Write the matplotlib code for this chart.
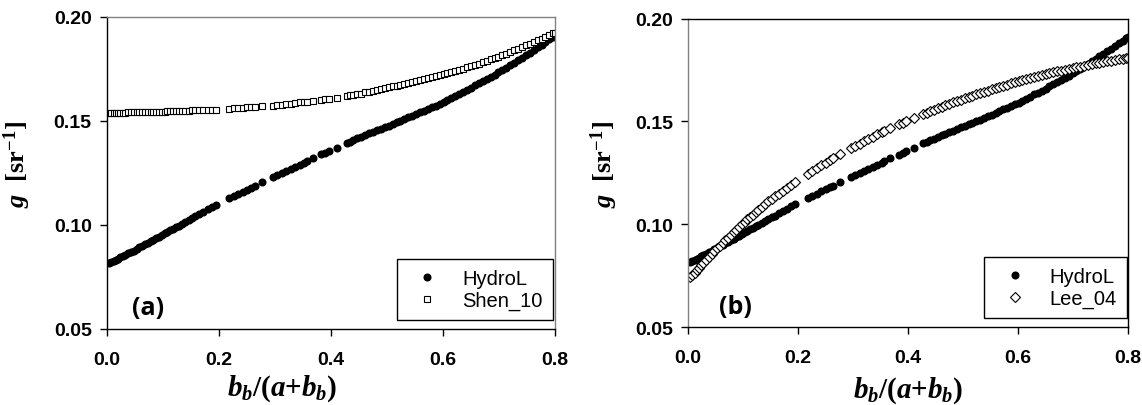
import matplotlib
matplotlib.use("Agg")
import matplotlib.pyplot as plt
from matplotlib.font_manager import FontProperties
from matplotlib.ticker import FormatStrFormatter

plt.rcParams['mathtext.fontset'] = 'custom'
plt.rcParams['mathtext.it'] = 'Liberation Serif:italic:bold'
plt.rcParams['mathtext.rm'] = 'Liberation Serif:bold'
plt.rcParams['mathtext.bf'] = 'Liberation Serif:bold'

# b_b/(a+b_b) values shared by every series
bb_ratio = [
    0.004, 0.008, 0.012, 0.016, 0.020, 0.024, 0.028, 0.033, 0.038, 0.043,
    0.048, 0.053, 0.058, 0.063, 0.068, 0.073, 0.078, 0.083, 0.088, 0.093,
    0.098, 0.103, 0.108, 0.113, 0.118, 0.123, 0.128, 0.134, 0.140, 0.146,
    0.152, 0.158, 0.165, 0.172, 0.180, 0.188, 0.195,
    0.218, 0.226, 0.234, 0.242, 0.250, 0.258, 0.264,
    0.277,
    0.296, 0.304, 0.312, 0.320, 0.328, 0.336, 0.344, 0.352, 0.357,
    0.368,
    0.383, 0.390, 0.397,
    0.410,
    0.428, 0.434, 0.440, 0.447, 0.454, 0.461, 0.468, 0.475, 0.482, 0.489,
    0.496, 0.503, 0.510, 0.517, 0.524, 0.531, 0.538, 0.545, 0.552, 0.559,
    0.566, 0.573, 0.580, 0.587, 0.594, 0.601, 0.608, 0.615, 0.622, 0.629,
    0.636, 0.643, 0.650, 0.657, 0.664, 0.671, 0.678, 0.685, 0.692, 0.699,
    0.706, 0.713, 0.720, 0.727, 0.734, 0.741, 0.748, 0.755, 0.762, 0.769,
    0.776, 0.783, 0.790, 0.797, 0.800,
]

g_hydrol = [
    0.0816, 0.0821, 0.0827, 0.0832, 0.0838, 0.0844, 0.0849, 0.0856, 0.0863, 0.0870,
    0.0877, 0.0884, 0.0892, 0.0899, 0.0907, 0.0914, 0.0922, 0.0929, 0.0937, 0.0944,
    0.0952, 0.0960, 0.0967, 0.0975, 0.0982, 0.0990, 0.0997, 0.1006, 0.1015, 0.1024,
    0.1033, 0.1042, 0.1053, 0.1063, 0.1075, 0.1087, 0.1098,
    0.1128, 0.1139, 0.1149, 0.1160, 0.1170, 0.1180, 0.1188,
    0.1205,
    0.1230, 0.1240, 0.1250, 0.1260, 0.1270, 0.1280, 0.1290, 0.1300, 0.1307,
    0.1320,
    0.1339, 0.1348, 0.1356,
    0.1372,
    0.1394, 0.1401, 0.1408, 0.1416, 0.1424, 0.1432, 0.1440, 0.1447, 0.1455, 0.1463,
    0.1471, 0.1478, 0.1486, 0.1494, 0.1501, 0.1509, 0.1517, 0.1525, 0.1532, 0.1541,
    0.1549, 0.1558, 0.1566, 0.1574, 0.1583, 0.1591, 0.1601, 0.1611, 0.1621, 0.1631,
    0.1640, 0.1650, 0.1660, 0.1671, 0.1681, 0.1692, 0.1702, 0.1713, 0.1723, 0.1734,
    0.1745, 0.1757, 0.1769, 0.1781, 0.1793, 0.1805, 0.1817, 0.1829, 0.1842, 0.1854,
    0.1867, 0.1879, 0.1892, 0.1905, 0.1910,
]

g_shen10 = [
    0.1538, 0.1539, 0.1539, 0.1539, 0.1539, 0.1540, 0.1540, 0.1540, 0.1541, 0.1541,
    0.1541, 0.1542, 0.1542, 0.1542, 0.1543, 0.1543, 0.1543, 0.1544, 0.1544, 0.1544,
    0.1545, 0.1545, 0.1546, 0.1546, 0.1547, 0.1547, 0.1548, 0.1549, 0.1549, 0.1550,
    0.1551, 0.1551, 0.1552, 0.1553, 0.1554, 0.1555, 0.1555,
    0.1559, 0.1561, 0.1562, 0.1564, 0.1565, 0.1567, 0.1568,
    0.1571,
    0.1574, 0.1576, 0.1579, 0.1581, 0.1584, 0.1587, 0.1589, 0.1592, 0.1593,
    0.1597,
    0.1602, 0.1604, 0.1606,
    0.1612,
    0.1620, 0.1623, 0.1625, 0.1629, 0.1632, 0.1637, 0.1641, 0.1645, 0.1649, 0.1653,
    0.1658, 0.1662, 0.1666, 0.1670, 0.1674, 0.1679, 0.1683, 0.1687, 0.1691, 0.1696,
    0.1701, 0.1706, 0.1711, 0.1716, 0.1721, 0.1726, 0.1731, 0.1736, 0.1742, 0.1747,
    0.1752, 0.1758, 0.1763, 0.1770, 0.1776, 0.1783, 0.1789, 0.1796, 0.1802, 0.1809,
    0.1817, 0.1824, 0.1832, 0.1840, 0.1847, 0.1855, 0.1863, 0.1871, 0.1879, 0.1888,
    0.1896, 0.1905, 0.1913, 0.1921, 0.1925,
]

g_lee04 = [
    0.0742, 0.0753, 0.0765, 0.0776, 0.0788, 0.0800, 0.0811, 0.0826, 0.0840, 0.0855,
    0.0869, 0.0883, 0.0896, 0.0909, 0.0922, 0.0935, 0.0948, 0.0961, 0.0974, 0.0987,
    0.1000, 0.1012, 0.1023, 0.1035, 0.1046, 0.1058, 0.1069, 0.1083, 0.1097, 0.1111,
    0.1124, 0.1135, 0.1149, 0.1162, 0.1177, 0.1192, 0.1206,
    0.1246, 0.1259, 0.1273, 0.1286, 0.1300, 0.1312, 0.1321,
    0.1341,
    0.1369, 0.1381, 0.1392, 0.1403, 0.1414, 0.1425, 0.1437, 0.1447, 0.1453,
    0.1467,
    0.1485, 0.1493, 0.1501,
    0.1516,
    0.1536, 0.1542, 0.1549, 0.1557, 0.1564, 0.1571, 0.1578, 0.1585, 0.1592, 0.1599,
    0.1606, 0.1613, 0.1619, 0.1625, 0.1632, 0.1638, 0.1644, 0.1650, 0.1657, 0.1662,
    0.1668, 0.1673, 0.1679, 0.1685, 0.1690, 0.1696, 0.1701, 0.1706, 0.1710, 0.1715,
    0.1720, 0.1725, 0.1730, 0.1734, 0.1738, 0.1743, 0.1747, 0.1751, 0.1755, 0.1759,
    0.1763, 0.1767, 0.1771, 0.1775, 0.1779, 0.1783, 0.1786, 0.1789, 0.1793, 0.1796,
    0.1799, 0.1802, 0.1805, 0.1809, 0.1810,
]

x_ticks = [0.0, 0.2, 0.4, 0.6, 0.8]
y_ticks = [0.05, 0.10, 0.15, 0.20]

tick_font = FontProperties(family='Liberation Sans', weight='bold', size=14)
legend_font = dict(family='Liberation Sans', size=14.5)


def style_axes(ax, gray_spines):
    ax.set_xlim(0, 0.8)
    ax.set_ylim(0.05, 0.20)
    ax.set_xticks(x_ticks)
    ax.set_yticks(y_ticks)
    ax.xaxis.set_major_formatter(FormatStrFormatter('%.1f'))
    ax.yaxis.set_major_formatter(FormatStrFormatter('%.2f'))
    ax.tick_params(direction='out', length=5, width=1)
    ax.tick_params(axis='x', pad=11)
    ax.tick_params(axis='y', pad=6)
    for lab in ax.get_xticklabels() + ax.get_yticklabels():
        lab.set_fontproperties(tick_font)
    for name, sp in ax.spines.items():
        sp.set_linewidth(1)
        sp.set_color('#808080' if name in gray_spines else 'black')
    ax.set_xlabel(r'$b_b/(a{+}b_b)$', fontsize=21)
    ax.set_ylabel(r'$g$  [sr$^{-1}$]', fontsize=19, family='Liberation Serif', weight='bold')


def add_legend(ax, right):
    ax.legend(loc='lower right', bbox_to_anchor=(right, 0.029), borderaxespad=0,
              fancybox=False, edgecolor='black', framealpha=1, prop=legend_font,
              handlelength=2.0, handletextpad=0.75, borderpad=0.5,
              labelspacing=0.15)


fig = plt.figure(figsize=(11.42, 4.06), dpi=100)

ax1 = fig.add_axes([0.0937, 0.1872, 0.3923, 0.7685])
ax1.plot(bb_ratio, g_hydrol, 'o', color='black', ms=5.8, mew=0, label='HydroL')
ax1.plot(bb_ratio, g_shen10, 's', mfc='white', mec='black', ms=4.8, mew=0.8, label='Shen_10')
style_axes(ax1, ['top', 'right'])
ax1.xaxis.set_label_coords(0.39, -0.14)
ax1.yaxis.set_label_coords(-0.165, 0.53)
ax1.text(0.056, 0.03, '(a)', transform=ax1.transAxes, fontsize=18,
         family='Open Sans', weight='bold', va='bottom')
add_legend(ax1, 0.9955)

ax2 = fig.add_axes([0.6025, 0.1921, 0.3853, 0.7596])
ax2.plot(bb_ratio, g_hydrol, 'o', color='black', ms=5.8, mew=0, label='HydroL')
ax2.plot(bb_ratio, g_lee04, 'D', mfc='white', mec='black', ms=4.6, mew=0.8, label='Lee_04')
style_axes(ax2, ['left'])
ax2.xaxis.set_label_coords(0.5, -0.155)
ax2.yaxis.set_label_coords(-0.155, 0.53)
ax2.text(0.07, 0.026, '(b)', transform=ax2.transAxes, fontsize=18,
         family='Open Sans', weight='bold', va='bottom')
add_legend(ax2, 0.998)

fig.savefig('out.png', dpi=100)
